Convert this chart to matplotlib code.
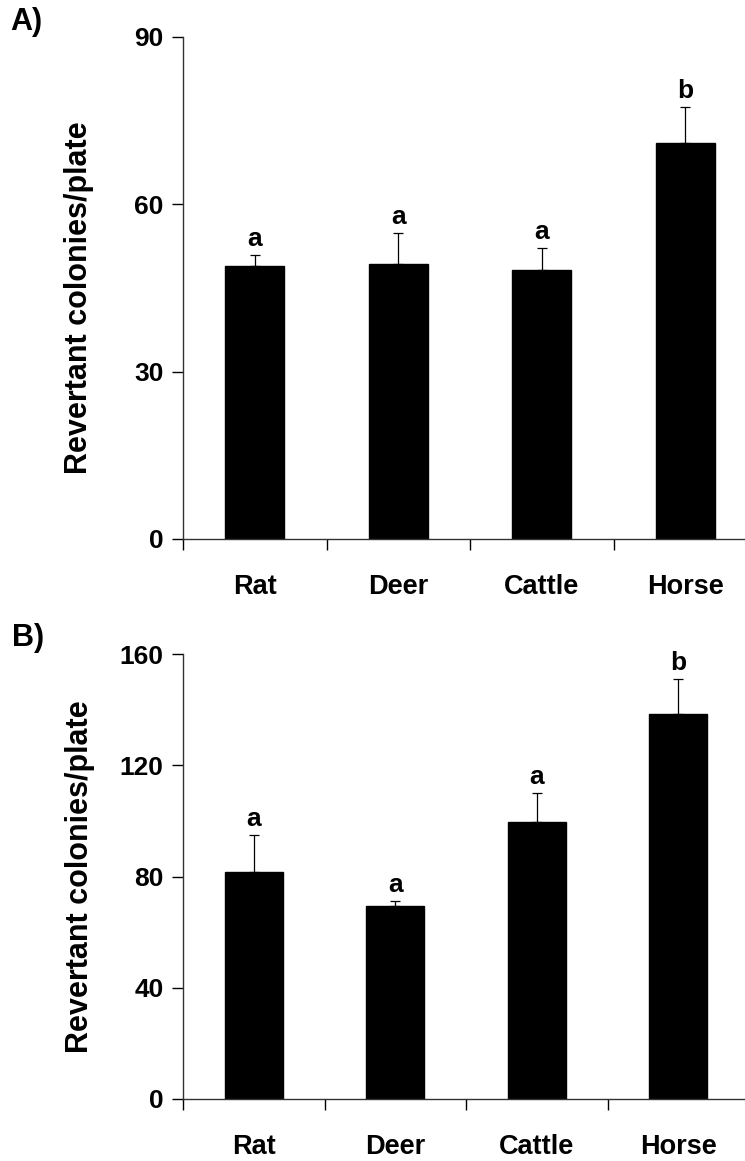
import matplotlib
matplotlib.use("Agg")
import matplotlib.pyplot as plt

plt.rcParams['font.family'] = ['Liberation Sans', 'DejaVu Sans']
plt.rcParams['font.weight'] = 'bold'

animals = ['Rat', 'Deer', 'Cattle', 'Horse']

# panel A
a_means = [49.0, 49.3, 48.3, 71.0]
a_err = [1.9, 5.6, 3.8, 6.5]
a_letters = ['a', 'a', 'a', 'b']
a_ticks = [0, 30, 60, 90]

# panel B
b_means = [81.5, 69.5, 99.7, 138.5]
b_err = [13.4, 1.8, 10.4, 12.6]
b_letters = ['a', 'a', 'a', 'b']
b_ticks = [0, 40, 80, 120, 160]

fig = plt.figure(figsize=(7.45, 11.61), dpi=100)

W, H = 745.0, 1161.0


def add_panel(left, top, right, bottom):
    return fig.add_axes([left / W, 1 - bottom / H, (right - left) / W, (bottom - top) / H])


def draw(ax, means, errs, letters, ticks, label_y):
    x = range(len(animals))
    ax.bar(x, means, width=0.41, color='black', edgecolor='black', zorder=2)
    ax.errorbar(x, means, yerr=[[0] * len(errs), errs], fmt='none', ecolor='black',
                elinewidth=0.9, capsize=3.5, capthick=0.9, zorder=1)
    for i, (m, e, t) in enumerate(zip(means, errs, letters)):
        ax.annotate(t, (i, m + e), xytext=(0, 3), textcoords='offset points',
                    ha='center', va='bottom', fontsize=19, fontweight='bold')
    ax.set_xlim(-0.5, len(animals) - 0.5)
    ax.set_ylim(0, ticks[-1])
    ax.set_yticks(ticks)
    ax.set_yticklabels([str(t) for t in ticks], fontsize=19, fontweight='bold')
    ax.tick_params(axis='y', direction='out', length=8, width=1, pad=6)
    # category ticks sit between bars, labels under bars
    ax.set_xticks([i - 0.5 for i in range(len(animals))])
    ax.set_xticklabels([])
    ax.set_xticks(list(x), minor=True)
    ax.set_xticklabels(animals, minor=True, fontsize=19.5, fontweight='bold')
    ax.tick_params(axis='x', which='major', direction='out', length=8, width=1)
    ax.tick_params(axis='x', which='minor', length=0, pad=25)
    for s in ['top', 'right']:
        ax.spines[s].set_visible(False)
    for s in ['left', 'bottom']:
        ax.spines[s].set_linewidth(1.0)
        ax.spines[s].set_color('#333333')
    ax.set_ylabel('Revertant colonies/plate', fontsize=22, fontweight='bold')
    ax.yaxis.set_label_coords(-0.155, label_y)


ax1 = add_panel(183, 37, 757, 539)
draw(ax1, a_means, a_err, a_letters, a_ticks, 0.48)

ax2 = add_panel(183, 654, 749, 1099)
draw(ax2, b_means, b_err, b_letters, b_ticks, 0.5)

fig.text(10 / W, 1 - 22 / H, 'A)', fontsize=22, fontweight='bold', va='center', ha='left')
fig.text(12 / W, 1 - 638 / H, 'B)', fontsize=22, fontweight='bold', va='center', ha='left')

fig.savefig('out.png', dpi=100)
